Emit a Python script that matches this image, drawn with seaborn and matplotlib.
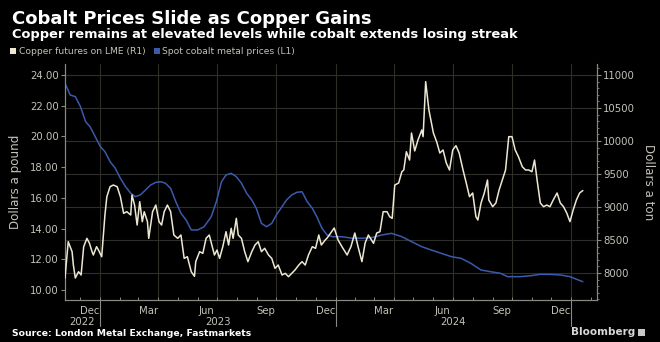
import matplotlib
matplotlib.use("Agg")
import matplotlib.pyplot as plt
import matplotlib.dates as mdates
import matplotlib.transforms as mtransforms
from matplotlib.patches import Patch, Rectangle
from matplotlib.ticker import MultipleLocator, FixedLocator
import numpy as np
import pandas as pd
import seaborn as sns

# LME copper futures, USD per metric ton (right axis)
copper_dates = [
    "2022-11-07", "2022-11-12", "2022-11-18", "2022-11-20", "2022-11-23", "2022-11-28",
    "2022-12-02", "2022-12-06", "2022-12-11", "2022-12-15", "2022-12-19", "2022-12-21",
    "2022-12-26", "2022-12-29", "2023-01-03", "2023-01-08", "2023-01-11", "2023-01-16",
    "2023-01-21", "2023-01-27", "2023-02-01", "2023-02-06", "2023-02-11", "2023-02-17",
    "2023-02-19", "2023-02-23", "2023-02-27", "2023-03-03", "2023-03-07", "2023-03-10",
    "2023-03-15", "2023-03-17", "2023-03-23", "2023-03-28", "2023-04-02", "2023-04-06",
    "2023-04-10", "2023-04-15", "2023-04-20", "2023-04-25", "2023-05-01", "2023-05-06",
    "2023-05-11", "2023-05-16", "2023-05-22", "2023-05-27", "2023-05-29", "2023-06-04",
    "2023-06-09", "2023-06-14", "2023-06-19", "2023-06-23", "2023-06-27", "2023-07-01",
    "2023-07-05", "2023-07-10", "2023-07-15", "2023-07-19", "2023-07-23", "2023-07-26",
    "2023-07-31", "2023-08-03", "2023-08-08", "2023-08-13", "2023-08-18", "2023-08-24",
    "2023-08-29", "2023-09-03", "2023-09-08", "2023-09-13", "2023-09-19", "2023-09-24",
    "2023-09-29", "2023-10-04", "2023-10-10", "2023-10-15", "2023-10-20", "2023-10-25",
    "2023-10-30", "2023-11-05", "2023-11-10", "2023-11-15", "2023-11-20", "2023-11-26",
    "2023-12-01", "2023-12-06", "2023-12-10", "2023-12-16", "2023-12-19", "2023-12-24",
    "2023-12-30", "2024-01-05", "2024-01-11", "2024-01-19", "2024-01-25", "2024-01-31",
    "2024-02-05", "2024-02-11", "2024-02-16", "2024-02-21", "2024-02-29", "2024-03-05",
    "2024-03-10", "2024-03-15", "2024-03-21", "2024-03-25", "2024-03-29", "2024-04-02",
    "2024-04-08", "2024-04-13", "2024-04-16", "2024-04-20", "2024-04-25", "2024-04-28",
    "2024-05-03", "2024-05-08", "2024-05-14", "2024-05-16", "2024-05-20", "2024-05-25",
    "2024-05-28", "2024-06-01", "2024-06-06", "2024-06-11", "2024-06-16", "2024-06-21",
    "2024-06-26", "2024-07-01", "2024-07-06", "2024-07-11", "2024-07-17", "2024-07-22",
    "2024-07-27", "2024-08-01", "2024-08-06", "2024-08-09", "2024-08-14", "2024-08-19",
    "2024-08-24", "2024-08-26", "2024-09-01", "2024-09-06", "2024-09-11", "2024-09-16",
    "2024-09-21", "2024-09-26", "2024-10-01", "2024-10-06", "2024-10-11", "2024-10-17",
    "2024-10-22", "2024-10-27", "2024-11-01", "2024-11-05", "2024-11-09", "2024-11-14",
    "2024-11-19", "2024-11-24", "2024-11-29", "2024-12-04", "2024-12-10", "2024-12-15",
    "2024-12-20", "2024-12-25", "2024-12-30", "2025-01-04", "2025-01-09", "2025-01-14",
    "2025-01-19",
]
copper_usd_ton = [
    7924, 8474, 8323, 8121, 7924, 8020,
    7970, 8399, 8525, 8450, 8323, 8273,
    8399, 8348, 8247, 8879, 9157, 9308,
    9333, 9308, 9157, 8904, 8929, 8879,
    9182, 9030, 8727, 9081, 8778, 8929,
    8778, 8525, 8929, 9030, 8778, 8727,
    8929, 9030, 8929, 8576, 8525, 8576,
    8222, 8247, 8020, 7950, 8172, 8323,
    8298, 8525, 8576, 8424, 8273, 8348,
    8222, 8399, 8626, 8424, 8677, 8525,
    8828, 8576, 8525, 8323, 8172, 8323,
    8424, 8474, 8323, 8374, 8273, 8222,
    8071, 8121, 7970, 7995, 7944, 7995,
    8045, 8121, 8172, 8121, 8273, 8399,
    8374, 8576, 8424, 8500, 8530, 8600,
    8682, 8500, 8399, 8273, 8400, 8606,
    8399, 8172, 8455, 8576, 8450, 8606,
    8626, 8929, 8929, 8854, 8828, 9333,
    9364, 9535, 9561, 9838, 9712, 10121,
    9850, 10015, 10167, 10066, 10899, 10470,
    10318, 10121, 9990, 9818, 9864, 9667,
    9561, 9864, 9930, 9818, 9561, 9364,
    9157, 9212, 8854, 8803, 9061, 9212,
    9409, 9106, 9005, 9061, 9258, 9409,
    9561, 10066, 10066, 9864, 9763, 9611,
    9561, 9561, 9535, 9712, 9409, 9061,
    9005, 9030, 9005, 9106, 9212, 9061,
    9005, 8909, 8778, 8955, 9106, 9212,
    9250,
]

# Spot cobalt metal, USD per pound (left axis)
cobalt_dates = [
    "2022-11-07", "2022-11-15", "2022-11-23", "2022-12-01", "2022-12-09", "2022-12-16",
    "2022-12-24", "2023-01-01", "2023-01-08", "2023-01-16", "2023-01-24", "2023-02-01",
    "2023-02-09", "2023-02-17", "2023-02-24", "2023-03-04", "2023-03-12", "2023-03-20",
    "2023-03-28", "2023-04-05", "2023-04-12", "2023-04-20", "2023-04-28", "2023-05-06",
    "2023-05-14", "2023-05-22", "2023-06-01", "2023-06-11", "2023-06-22", "2023-06-30",
    "2023-07-08", "2023-07-15", "2023-07-23", "2023-07-31", "2023-08-08", "2023-08-16",
    "2023-08-24", "2023-08-31", "2023-09-08", "2023-09-16", "2023-09-24", "2023-10-01",
    "2023-10-10", "2023-10-17", "2023-10-25", "2023-11-02", "2023-11-10", "2023-11-18",
    "2023-11-26", "2023-12-03", "2023-12-11", "2023-12-19", "2023-12-27", "2024-01-11",
    "2024-01-27", "2024-02-11", "2024-02-26", "2024-03-13", "2024-03-28", "2024-04-13",
    "2024-04-28", "2024-05-14", "2024-05-29", "2024-06-13", "2024-06-29", "2024-07-14",
    "2024-07-29", "2024-08-14", "2024-08-29", "2024-09-13", "2024-09-24", "2024-10-14",
    "2024-10-30", "2024-11-14", "2024-11-29", "2024-12-15", "2024-12-30", "2025-01-09",
    "2025-01-19",
]
cobalt_usd_lb = [
    23.46, 22.70, 22.59, 21.94, 20.96, 20.63,
    19.98, 19.33, 19.01, 18.36, 17.93, 17.27,
    16.73, 16.30, 16.08, 16.19, 16.51, 16.84,
    17.01, 17.05, 16.95, 16.62, 15.75, 15.00,
    14.56, 13.91, 13.91, 14.12, 14.77, 15.75,
    17.05, 17.49, 17.60, 17.38, 16.95, 16.30,
    15.86, 15.32, 14.34, 14.12, 14.34, 14.88,
    15.43, 15.86, 16.19, 16.36, 16.40, 15.75,
    15.32, 14.77, 14.02, 13.58, 13.47, 13.47,
    13.37, 13.37, 13.41, 13.58, 13.69, 13.47,
    13.15, 12.82, 12.60, 12.39, 12.17, 12.06,
    11.74, 11.30, 11.19, 11.09, 10.87, 10.87,
    10.93, 11.02, 11.02, 10.98, 10.87, 10.70,
    10.54,
]

left_ticks = [10, 12, 14, 16, 18, 20, 22, 24]
right_ticks = [8000, 8500, 9000, 9500, 10000, 10500, 11000]
month_labels = ["Dec", "Mar", "Jun", "Sep", "Dec", "Mar", "Jun", "Sep", "Dec"]
month_label_dates = ["2022-12-16", "2023-03-16", "2023-06-15", "2023-09-15", "2023-12-16",
                     "2024-03-16", "2024-06-15", "2024-09-15", "2024-12-16"]
year_labels = ["2022", "2023", "2024"]
year_label_dates = ["2022-12-04", "2023-07-02", "2024-07-01"]
year_breaks = ["2023-01-01", "2024-01-01", "2025-01-01"]

copper = pd.DataFrame({"date": pd.to_datetime(copper_dates), "price": copper_usd_ton})
cobalt = pd.DataFrame({"date": pd.to_datetime(cobalt_dates), "price": cobalt_usd_lb})

COPPER_C = "#eee8d2"
COBALT_C = "#3a5aac"
GRID_C = "#2e2e2a"
TICK_C = "#c4c2b8"
SPINE_C = "#8a8a84"

sns.set_theme(style="dark", rc={
    "figure.facecolor": "black",
    "axes.facecolor": "black",
    "axes.edgecolor": SPINE_C,
    "text.color": "white",
    "xtick.color": TICK_C,
    "ytick.color": TICK_C,
    "axes.labelcolor": TICK_C,
})
plt.rcParams["font.family"] = ["DejaVu Sans"]

W, H = 660, 342
fig = plt.figure(figsize=(W / 100, H / 100), dpi=100)
L, R, T, B = 65, 597, 64, 300
ax = fig.add_axes([L / W, 1 - B / H, (R - L) / W, (B - T) / H])
ax2 = ax.twinx()

xmin, xmax = pd.Timestamp("2022-11-07"), pd.Timestamp("2025-02-10")
lmin, lmax = 9.349, 24.716
rmin, rmax = 7591, 11167

# gridlines: horizontal at the right-axis levels, vertical at quarter starts
for rv in right_ticks:
    lv = lmin + (rv - rmin) * (lmax - lmin) / (rmax - rmin)
    ax.axhline(lv, color=GRID_C, lw=0.8, zorder=0)
for q in pd.date_range("2023-01-01", "2025-01-01", freq="QS"):
    ax.axvline(q, color="#2f2f26", lw=0.8, zorder=0)

sns.lineplot(data=cobalt, x="date", y="price", ax=ax, color=COBALT_C, lw=1.1, zorder=3)
sns.lineplot(data=copper, x="date", y="price", ax=ax2, color=COPPER_C, lw=1.1, zorder=3)

ax.set_xlim(xmin, xmax)
ax.set_ylim(lmin, lmax)
ax2.set_ylim(rmin, rmax)
for a in (ax, ax2):
    a.grid(False)
    a.set_xlabel("")
    a.spines["top"].set_visible(False)
    for s in ("left", "right", "bottom"):
        a.spines[s].set_color(SPINE_C)
        a.spines[s].set_linewidth(0.8)

ax.set_yticks(left_ticks)
ax.set_yticklabels([f"{v:.2f}" for v in left_ticks])
ax.tick_params(axis="y", which="major", direction="out", length=3, width=0.8,
               color=SPINE_C, labelsize=7.3, pad=1.5, left=True)
ax.set_ylabel("Dollars a pound", fontsize=8.6, color=TICK_C, labelpad=6)

ax2.set_yticks(right_ticks)
ax2.set_yticklabels([str(v) for v in right_ticks])
ax2.yaxis.set_minor_locator(MultipleLocator(100))
ax2.tick_params(axis="y", which="major", direction="out", length=3, width=0.8,
                color=SPINE_C, labelsize=7.3, pad=1.5, right=True)
ax2.tick_params(axis="y", which="minor", direction="out", length=1.5, width=0.6,
                color=SPINE_C, right=True)
ax2.set_ylabel("Dollars a ton", fontsize=8.6, color=TICK_C, rotation=270,
               va="bottom", labelpad=5)

ax.xaxis.set_major_locator(FixedLocator(mdates.date2num(pd.to_datetime(month_label_dates))))
ax.set_xticklabels(month_labels)
ax.xaxis.set_minor_locator(mdates.MonthLocator())
ax.tick_params(axis="x", which="major", length=0, labelsize=7.3, pad=4, bottom=True)
ax.tick_params(axis="x", which="minor", direction="in", length=2.5, width=0.7,
               color=SPINE_C, bottom=True)

blend = mtransforms.blended_transform_factory(ax.transData, ax.transAxes)
for d, lab in zip(year_label_dates, year_labels):
    ax.text(pd.Timestamp(d), -0.093, lab, transform=blend, ha="center", va="center",
            fontsize=7.3, color=TICK_C)
for d in year_breaks:
    ax.plot([pd.Timestamp(d)] * 2, [0, -0.11], transform=blend, color=SPINE_C,
            lw=0.8, clip_on=False)

fig.text(12 / W, 1 - 24 / H, "Cobalt Prices Slide as Copper Gains", fontsize=13.0,
         fontweight="bold", color="white", ha="left", va="baseline")
fig.text(12 / W, 1 - 38 / H,
         "Copper remains at elevated levels while cobalt extends losing streak",
         fontsize=9.4, fontweight="bold", color="white", ha="left", va="baseline")

handles = [Patch(facecolor=COPPER_C, edgecolor="none"), Patch(facecolor=COBALT_C, edgecolor="none")]
fig.legend(handles, ["Copper futures on LME (R1)", "Spot cobalt metal prices (L1)"],
           loc="center left", bbox_to_anchor=(10 / W, 1 - 52 / H), ncol=2, frameon=False,
           fontsize=6.6, handlelength=0.65, handleheight=0.65, handletextpad=0.3,
           columnspacing=0.9, labelcolor=TICK_C, borderpad=0, borderaxespad=0)

fig.text(12 / W, 1 - 333 / H, "Source: London Metal Exchange, Fastmarkets", fontsize=6.65,
         fontweight="bold", color="white", ha="left", va="center")
fig.text(635 / W, 1 - 332 / H, "Bloomberg", fontsize=7.5, fontweight="bold",
         color="#d8d8d8", ha="right", va="center")
fig.add_artist(Rectangle((638 / W, 1 - 336 / H), 7 / W, 7 / H, transform=fig.transFigure,
                         facecolor="#c8c8c8", edgecolor="none"))

fig.savefig("out.png", dpi=100, facecolor="black")
